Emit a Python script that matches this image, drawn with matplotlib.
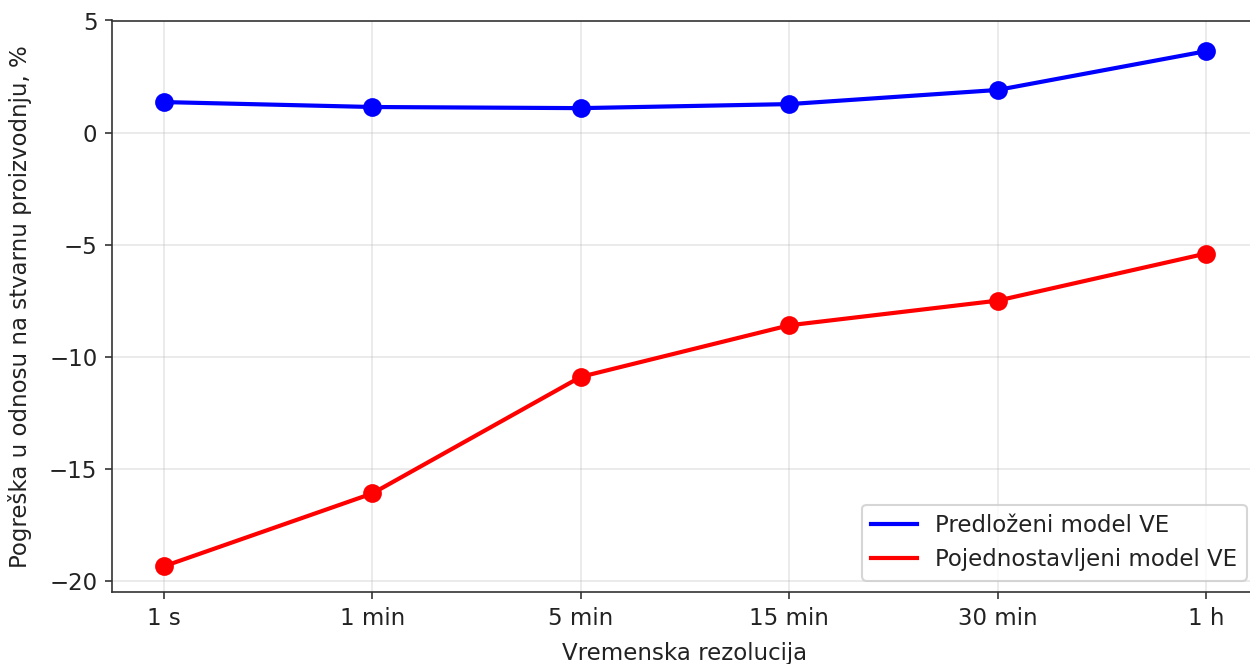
import matplotlib
matplotlib.use("Agg")
import matplotlib.pyplot as plt

categories = ["1 s", "1 min", "5 min", "15 min", "30 min", "1 h"]
proposed = [1.36, 1.14, 1.09, 1.27, 1.90, 3.63]
simplified = [-19.35, -16.1, -10.9, -8.6, -7.5, -5.4]

plt.rcParams.update({
    "font.size": 11,
    "text.color": "#222222",
    "axes.labelcolor": "#222222",
    "xtick.color": "#333333",
    "ytick.color": "#333333",
    "xtick.labelcolor": "#222222",
    "ytick.labelcolor": "#222222",
    "axes.edgecolor": "#333333",
})

fig = plt.figure(figsize=(1250/150, 664/150), dpi=150)
ax = fig.add_axes([112/1250, 72/664, (1258-112)/1250, (592-20.5)/664])
x = list(range(len(categories)))

ax.plot(x, proposed, color="blue", lw=2, label="Predloženi model VE")
ax.plot(x, simplified, color="red", lw=2, label="Pojednostavljeni model VE")
ax.plot(x, proposed, "o", color="blue", ms=8)
ax.plot(x, simplified, "o", color="red", ms=8)

ax.set_xticks(x)
ax.set_xticklabels(categories)
ax.set_xlim(-0.25, 5.25)
ax.set_ylim(-20.5, 5)
ax.grid(True, alpha=0.3)
ax.set_xlabel("Vremenska rezolucija", labelpad=6)
ax.set_ylabel("Pogreška u odnosu na stvarnu proizvodnju, %", labelpad=8)
ax.legend(loc="lower right")

fig.savefig("out.png", dpi=150)
